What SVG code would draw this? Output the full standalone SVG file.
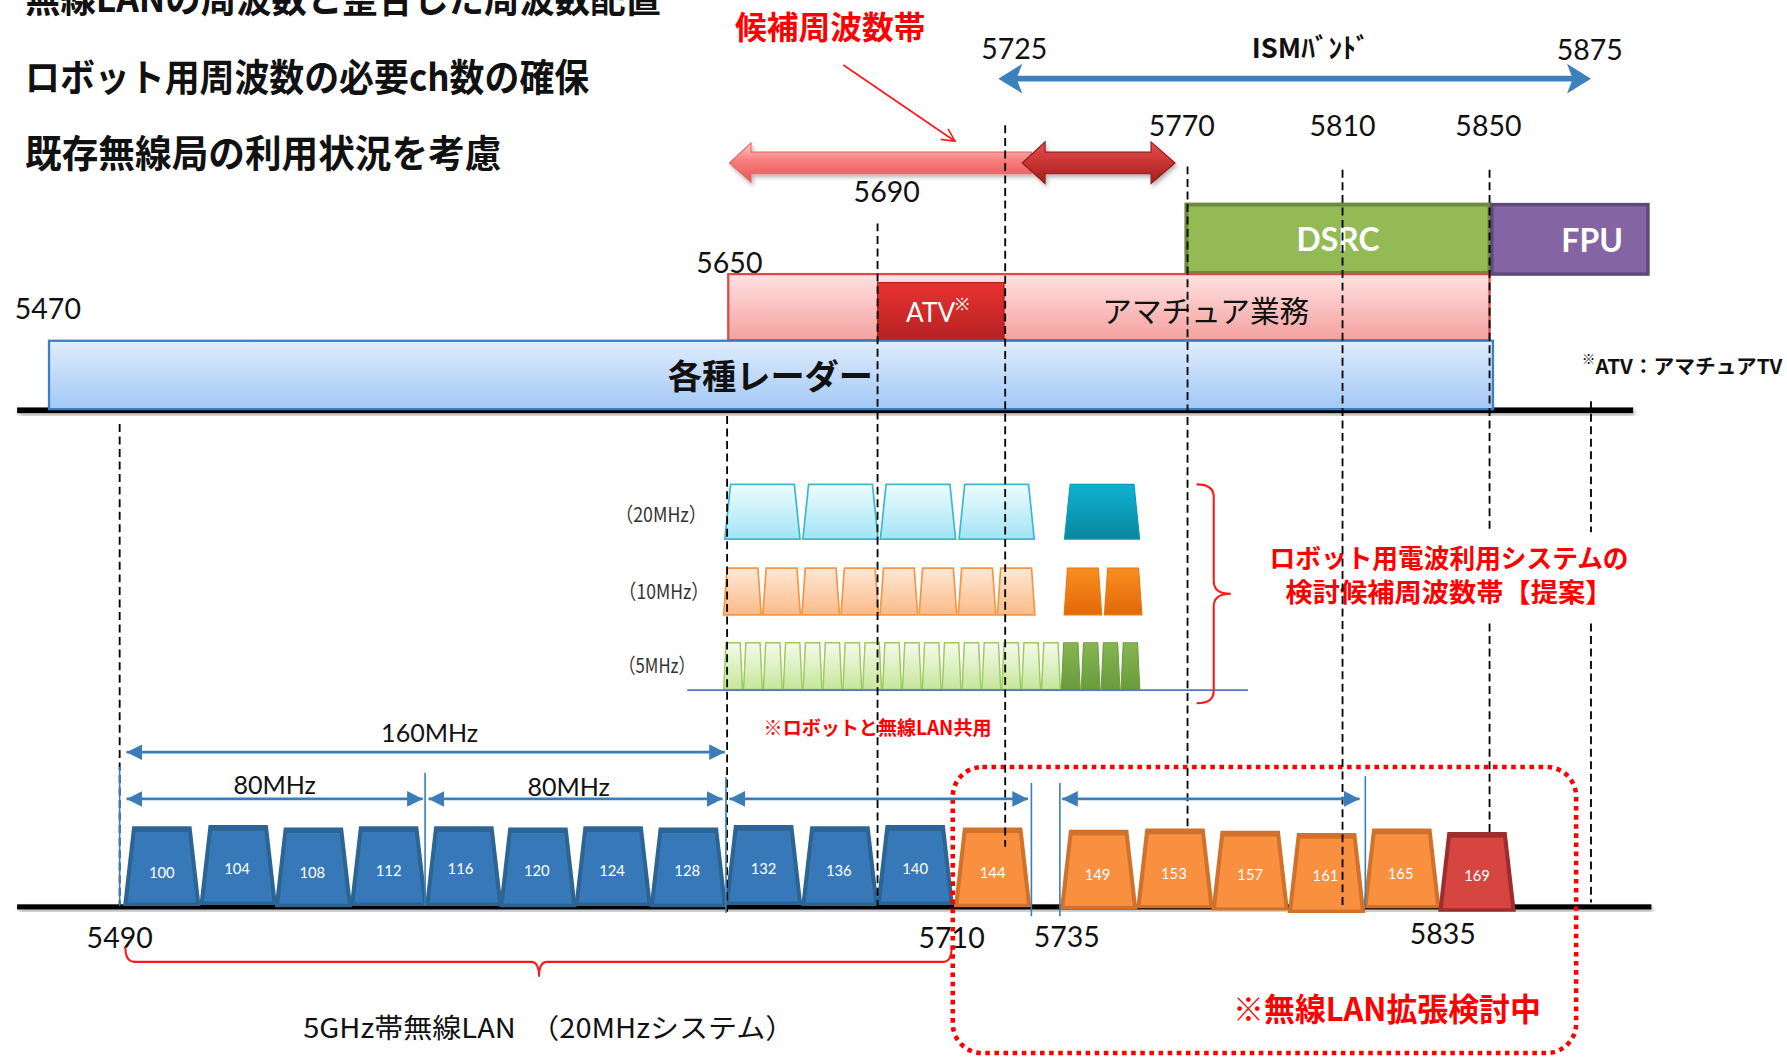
<svg xmlns="http://www.w3.org/2000/svg" width="1787" height="1060" viewBox="0 0 1787 1060">
<defs>
<style>
text{dominant-baseline:central}
.jp{font-family:"Noto Sans CJK JP","Noto Sans",sans-serif}
.num{font-family:Lato,"Liberation Sans",sans-serif}
.b{font-weight:bold}
.mid{text-anchor:middle}
.red{fill:#FF0000}
.n24{font-size:25px;fill:#111}
.dash{stroke:#000;stroke-width:1.6;stroke-dasharray:7 4;fill:none}
.dim{stroke:#3A7DB8;stroke-width:2.5;fill:none;marker-start:url(#dimHead);marker-end:url(#dimHead)}
.tick{stroke:#3A7DB8;stroke-width:1.4;fill:none}
.chb{fill:#2C6494;color:#3779B8}
.cho{fill:#D0722C;color:#F8903F}
.chr{fill:#9E2E2E;color:#D6453F}
.chl{fill:#fff;font-size:13px;text-anchor:middle;font-family:Lato,"Liberation Sans",sans-serif}
.c20l{fill:url(#gCyanL);stroke:#3CB8D0;stroke-width:1.5}
.c20d{fill:url(#gCyanD);stroke:#0C9AB6;stroke-width:1}
.c10l{fill:url(#gOrL);stroke:#F79646;stroke-width:1.5}
.c10d{fill:url(#gOrD);stroke:#E8770F;stroke-width:1}
.c5l{fill:url(#gGrL);stroke:#9BCB5B;stroke-width:1.3}
.c5d{fill:url(#gGrD);stroke:#6E9E3E;stroke-width:1}
.rowlab{font-size:18px;fill:#333}
.redline{stroke:#FF1A1A;stroke-width:1.8;fill:none}
</style>
<linearGradient id="gCyanL" x1="0" y1="0" x2="0" y2="1"><stop offset="0" stop-color="#EEFCFF"/><stop offset="1" stop-color="#A2E4F4"/></linearGradient>
<linearGradient id="gCyanD" x1="0" y1="0" x2="0" y2="1"><stop offset="0" stop-color="#0EB2D2"/><stop offset="1" stop-color="#0A869E"/></linearGradient>
<linearGradient id="gOrL" x1="0" y1="0" x2="0" y2="1"><stop offset="0" stop-color="#FEE8D6"/><stop offset="1" stop-color="#FBBB88"/></linearGradient>
<linearGradient id="gOrD" x1="0" y1="0" x2="0" y2="1"><stop offset="0" stop-color="#FA8E20"/><stop offset="1" stop-color="#E2680A"/></linearGradient>
<linearGradient id="gGrL" x1="0" y1="0" x2="0" y2="1"><stop offset="0" stop-color="#F4FBEA"/><stop offset="1" stop-color="#C6E69C"/></linearGradient>
<linearGradient id="gGrD" x1="0" y1="0" x2="0" y2="1"><stop offset="0" stop-color="#86B650"/><stop offset="1" stop-color="#6A9A3C"/></linearGradient>
<linearGradient id="gRadar" x1="0" y1="0" x2="0" y2="1"><stop offset="0" stop-color="#E0EDFC"/><stop offset="1" stop-color="#A2C8F6"/></linearGradient>
<linearGradient id="gPink" x1="0" y1="0" x2="0" y2="1"><stop offset="0" stop-color="#FFE2E2"/><stop offset="1" stop-color="#F4A19E"/></linearGradient>
<linearGradient id="gAtv" x1="0" y1="0" x2="0" y2="1"><stop offset="0" stop-color="#EA3230"/><stop offset="1" stop-color="#B52222"/></linearGradient>
<linearGradient id="gArrL" x1="0" y1="0" x2="0" y2="1"><stop offset="0" stop-color="#FFC8C8"/><stop offset="0.45" stop-color="#F97C7C"/><stop offset="1" stop-color="#E35656"/></linearGradient>
<linearGradient id="gArrD" x1="0" y1="0" x2="0" y2="1"><stop offset="0" stop-color="#EA4E4C"/><stop offset="1" stop-color="#A41C1C"/></linearGradient>
<filter id="sh" x="-5%" y="-20%" width="110%" height="160%"><feDropShadow dx="1.5" dy="2.5" stdDeviation="1.8" flood-color="#000" flood-opacity="0.3"/></filter>
<marker id="dimHead" viewBox="0 0 10 10" refX="10" refY="5" markerWidth="5.5" markerHeight="6" orient="auto-start-reverse" markerUnits="strokeWidth"><path d="M0,0 L10,5 L0,10 Z" fill="#3A7DB8"/></marker>
<marker id="openHead" viewBox="0 0 12 12" refX="11" refY="6" markerWidth="9" markerHeight="9" orient="auto" markerUnits="strokeWidth"><path d="M1,1 L11,6 L1,11" fill="none" stroke="#FF1A1A" stroke-width="1.2"/></marker>
<g id="ch"><path d="M0,70 L8,0 L60,0 L68,70 Z"/><path d="M4,67 L11,5 L57,5 L64,67 Z" fill="currentColor"/></g>
<path id="t20" d="M0,48 L5,0 L61,0 L66,48 Z"/>
<path id="t10" d="M0,41 L3,0 L30,0 L33,41 Z"/>
<path id="t5" d="M0,41 L2,0 L14.5,0 L16.5,41 Z"/>
</defs>
<rect width="1787" height="1060" fill="#fff"/>
<g transform="scale(1.13967)">

<g id="titles" class="jp b" fill="#111">
<text x="22" y="-4" font-size="33" textLength="558" lengthAdjust="spacingAndGlyphs">無線LANの周波数と整合した周波数配置</text>
<text x="22" y="65" font-size="33" textLength="495" lengthAdjust="spacingAndGlyphs">ロボット用周波数の必要ch数の確保</text>
<text x="22" y="132" font-size="33" textLength="418" lengthAdjust="spacingAndGlyphs">既存無線局の利用状況を考慮</text>
</g>

<g id="candidate-label">
<text class="jp b red" x="645" y="22" font-size="28" textLength="167" lengthAdjust="spacingAndGlyphs">候補周波数帯</text>
</g>

<g id="ism-band">
<text class="jp b mid" x="1150" y="40" font-size="24" fill="#111">ISMﾊﾞﾝﾄﾞ</text>
<line x1="888" y1="69" x2="1383" y2="69" stroke="#3C80BE" stroke-width="5"/>
<path d="M876,69 L897,56 L892,69 L897,82 Z" fill="#3C80BE"/>
<path d="M1396,69 L1375,56 L1380,69 L1375,82 Z" fill="#3C80BE"/>
</g>

<g id="freq-labels-top" class="num mid n24">
<text x="890" y="42">5725</text>
<text x="1395" y="43">5875</text>
<text x="1037" y="110">5770</text>
<text x="1178" y="110">5810</text>
<text x="1306" y="110">5850</text>
<text x="778" y="168">5690</text>
<text x="640" y="230">5650</text>
<text x="42" y="270">5470</text>
</g>

<g id="candidate-arrows" filter="url(#sh)">
<path d="M640,143 L659,125.5 L659,133.5 L905,133.5 L905,152.5 L659,152.5 L659,160 Z" fill="url(#gArrL)" stroke="#E86A6A" stroke-width="1"/>
<path d="M897,143 L917,124.5 L917,133.5 L1010,133.5 L1010,124.5 L1031,143 L1010,161 L1010,152.5 L917,152.5 L917,161 Z" fill="url(#gArrD)" stroke="#8E1A1A" stroke-width="1"/>
</g>

<g id="band-dsrc">
<rect x="1041" y="179.5" width="266" height="60" fill="#93BA55" stroke="#6E8B3D" stroke-width="3.5"/>
<text class="num b mid" x="1174" y="210" font-size="28" fill="#fff">DSRC</text>
</g>
<g id="band-fpu">
<rect x="1309" y="179.5" width="137" height="61" fill="#8464A2" stroke="#5E4A7A" stroke-width="3"/>
<text class="num b mid" x="1397" y="211" font-size="28" fill="#fff">FPU</text>
</g>
<g id="band-amateur">
<rect x="639" y="240.5" width="668" height="58" fill="url(#gPink)" stroke="#E04848" stroke-width="2"/>
<text class="jp mid" x="1058" y="272" font-size="26" fill="#111">アマチュア業務</text>
</g>
<g id="band-atv">
<rect x="770" y="248" width="111" height="50" fill="url(#gAtv)" stroke="#A81C1C" stroke-width="1"/>
<text class="num" x="795" y="274" font-size="23" fill="#fff">ATV<tspan font-size="15" dy="-8">※</tspan></text>
</g>

<g id="baseline-top">
<rect x="15" y="357.5" width="1418" height="5" fill="#000" filter="url(#sh)"/>
</g>
<g id="band-radar">
<rect x="43" y="299" width="1267" height="60" fill="url(#gRadar)" stroke="#3C7FC0" stroke-width="2"/>
<text class="jp b mid" x="676" y="328" font-size="30" fill="#111">各種レーダー</text>
</g>

<g id="atv-note">
<text class="jp b" x="1388" y="320" font-size="18" fill="#111"><tspan font-size="12" dy="-6">※</tspan><tspan dy="6" textLength="164" lengthAdjust="spacingAndGlyphs">ATV：アマチュアTV</tspan></text>
</g>

<g id="row-20mhz">
<text class="jp rowlab" x="540" y="450" textLength="80" lengthAdjust="spacingAndGlyphs">（20MHz）</text>
<use href="#t20" x="636" y="425" class="c20l"/>
<use href="#t20" x="704.5" y="425" class="c20l"/>
<use href="#t20" x="772.5" y="425" class="c20l"/>
<use href="#t20" x="841.5" y="425" class="c20l"/>
<use href="#t20" x="934" y="425" class="c20d"/>
</g>
<g id="row-10mhz">
<text class="jp rowlab" x="543" y="518" textLength="79" lengthAdjust="spacingAndGlyphs">（10MHz）</text>
<use href="#t10" x="635" y="498.5" class="c10l"/>
<use href="#t10" x="669.3" y="498.5" class="c10l"/>
<use href="#t10" x="703.6" y="498.5" class="c10l"/>
<use href="#t10" x="737.9" y="498.5" class="c10l"/>
<use href="#t10" x="772.2" y="498.5" class="c10l"/>
<use href="#t10" x="806.5" y="498.5" class="c10l"/>
<use href="#t10" x="840.8" y="498.5" class="c10l"/>
<use href="#t10" x="875.1" y="498.5" class="c10l"/>
<use href="#t10" x="933.7" y="498.5" class="c10d"/>
<use href="#t10" x="969" y="498.5" class="c10d"/>
</g>
<g id="row-5mhz">
<text class="jp rowlab" x="543" y="583" textLength="67" lengthAdjust="spacingAndGlyphs">（5MHz）</text>
<use href="#t5" x="635" y="564" class="c5l"/>
<use href="#t5" x="652.43" y="564" class="c5l"/>
<use href="#t5" x="669.86" y="564" class="c5l"/>
<use href="#t5" x="687.29" y="564" class="c5l"/>
<use href="#t5" x="704.72" y="564" class="c5l"/>
<use href="#t5" x="722.15" y="564" class="c5l"/>
<use href="#t5" x="739.58" y="564" class="c5l"/>
<use href="#t5" x="757.01" y="564" class="c5l"/>
<use href="#t5" x="774.44" y="564" class="c5l"/>
<use href="#t5" x="791.87" y="564" class="c5l"/>
<use href="#t5" x="809.3" y="564" class="c5l"/>
<use href="#t5" x="826.73" y="564" class="c5l"/>
<use href="#t5" x="844.16" y="564" class="c5l"/>
<use href="#t5" x="861.59" y="564" class="c5l"/>
<use href="#t5" x="879.02" y="564" class="c5l"/>
<use href="#t5" x="896.45" y="564" class="c5l"/>
<use href="#t5" x="913.88" y="564" class="c5l"/>
<use href="#t5" x="931.31" y="564" class="c5d"/>
<use href="#t5" x="948.74" y="564" class="c5d"/>
<use href="#t5" x="966.17" y="564" class="c5d"/>
<use href="#t5" x="983.6" y="564" class="c5d"/>
<line x1="603" y1="605.5" x2="1095" y2="605.5" stroke="#4A7EBB" stroke-width="1.5"/>
</g>

<g id="proposal-label">
<path class="redline" d="M1050,425 Q1065,425 1065,436 L1065,510 Q1065,521 1080,521 Q1065,521 1065,532 L1065,606 Q1065,617 1050,617"/>
<text class="jp b red" x="1114" y="489" font-size="23" textLength="315" lengthAdjust="spacingAndGlyphs">ロボット用電波利用システムの</text>
<text class="jp b red" x="1128" y="519" font-size="23" textLength="287" lengthAdjust="spacingAndGlyphs">検討候補周波数帯【提案】</text>
</g>

<g id="shared-note">
<text class="jp b red" x="670" y="638" font-size="17" textLength="200" lengthAdjust="spacingAndGlyphs">※ロボットと無線LAN共用</text>
</g>

<g id="bandwidth-labels" class="num mid" font-size="22" fill="#111">
<text x="377" y="642">160MHz</text>
<text x="241" y="688">80MHz</text>
<text x="499" y="690">80MHz</text>
</g>

<g id="baseline-bottom">
<rect x="15" y="793.5" width="1434" height="4.5" fill="#000" filter="url(#sh)"/>
</g>

<g id="channels">
<g id="ch100"><use href="#ch" x="108" y="725" class="chb"/><text class="chl" x="142" y="765">100</text></g>
<g id="ch104"><use href="#ch" x="175" y="724" class="chb"/><text class="chl" x="208" y="762">104</text></g>
<g id="ch108"><use href="#ch" x="241" y="726" class="chb"/><text class="chl" x="274" y="765">108</text></g>
<g id="ch112"><use href="#ch" x="307" y="725" class="chb"/><text class="chl" x="341" y="763">112</text></g>
<g id="ch116"><use href="#ch" x="373" y="725" class="chb"/><text class="chl" x="404" y="762">116</text></g>
<g id="ch120"><use href="#ch" x="438" y="726" class="chb"/><text class="chl" x="471" y="763">120</text></g>
<g id="ch124"><use href="#ch" x="504" y="725" class="chb"/><text class="chl" x="537" y="763">124</text></g>
<g id="ch128"><use href="#ch" x="570" y="726" class="chb"/><text class="chl" x="603" y="763">128</text></g>
<g id="ch132"><use href="#ch" x="636" y="724" class="chb"/><text class="chl" x="670" y="762">132</text></g>
<g id="ch136"><use href="#ch" x="703" y="725" class="chb"/><text class="chl" x="736" y="763">136</text></g>
<g id="ch140"><use href="#ch" x="769" y="724" class="chb"/><text class="chl" x="803" y="762">140</text></g>
<g id="ch144"><use href="#ch" x="837" y="726" class="cho"/><text class="chl" x="871" y="765">144</text></g>
<g id="ch149"><use href="#ch" x="930" y="728" class="cho"/><text class="chl" x="963" y="767">149</text></g>
<g id="ch153"><use href="#ch" x="997" y="727" class="cho"/><text class="chl" x="1030" y="766">153</text></g>
<g id="ch157"><use href="#ch" x="1063" y="729" class="cho"/><text class="chl" x="1097" y="767">157</text></g>
<g id="ch161"><use href="#ch" x="1130" y="731" class="cho"/><text class="chl" x="1163" y="768">161</text></g>
<g id="ch165"><use href="#ch" x="1196" y="727" class="cho"/><text class="chl" x="1229" y="766">165</text></g>
<g id="ch169"><use href="#ch" x="1262" y="730" class="chr"/><text class="chl" x="1296" y="768">169</text></g>
</g>

<g id="freq-labels-bottom" class="num mid n24">
<text x="105" y="822">5490</text>
<text x="835" y="822">5710</text>
<text x="936" y="821">5735</text>
<text x="1266" y="819">5835</text>
</g>

<g id="wlan-label">
<path class="redline" d="M110,831 Q110,844 118,844 L466,844 Q473,844 473,857 Q473,844 480,844 L828,844 Q835,844 835,831"/>
<text class="jp" x="266" y="900" font-size="24" fill="#111" textLength="431" lengthAdjust="spacingAndGlyphs">5GHz帯無線LAN　（20MHzシステム）</text>
</g>

<g id="expansion-box">
<rect x="836" y="673" width="547" height="251" rx="26" fill="none" stroke="#FF0000" stroke-width="4" stroke-dasharray="4 4"/>
<text class="jp b red" x="1082" y="884" font-size="28" textLength="270" lengthAdjust="spacingAndGlyphs">※無線LAN拡張検討中</text>
</g>

<g id="connectors">
<line class="dash" x1="105" y1="372" x2="105" y2="795"/>
<line class="dash" x1="638" y1="365" x2="638" y2="800"/>
<line class="dash" x1="770" y1="196" x2="770" y2="795"/>
<line class="dash" x1="882" y1="110" x2="882" y2="743"/>
<line class="dash" x1="1042" y1="146" x2="1042" y2="728"/>
<line class="dash" x1="1178" y1="149" x2="1178" y2="797"/>
<line class="dash" x1="1307" y1="149" x2="1307" y2="467"/>
<line class="dash" x1="1307" y1="547" x2="1307" y2="730"/>
<line class="dash" x1="1396" y1="352" x2="1396" y2="467"/>
<line class="dash" x1="1396" y1="547" x2="1396" y2="792"/>
<line x1="740" y1="57" x2="838" y2="124" stroke="#FF1A1A" stroke-width="1.5" marker-end="url(#openHead)"/>
<line class="dim" x1="111" y1="660" x2="636" y2="660"/>
<line class="dim" x1="111" y1="701" x2="371" y2="701"/>
<line class="dim" x1="376" y1="701" x2="634" y2="701"/>
<line class="dim" x1="640" y1="701" x2="902" y2="701"/>
<line class="dim" x1="932" y1="701" x2="1193" y2="701"/>
<line class="tick" x1="105" y1="673" x2="105" y2="795"/>
<line class="tick" x1="373" y1="678" x2="373" y2="795"/>
<line class="tick" x1="637" y1="682" x2="637" y2="801"/>
<line class="tick" x1="905" y1="687" x2="905" y2="804"/>
<line class="tick" x1="930" y1="687" x2="930" y2="804"/>
<line class="tick" x1="1198" y1="681" x2="1198" y2="796"/>
</g>

</g>
</svg>
